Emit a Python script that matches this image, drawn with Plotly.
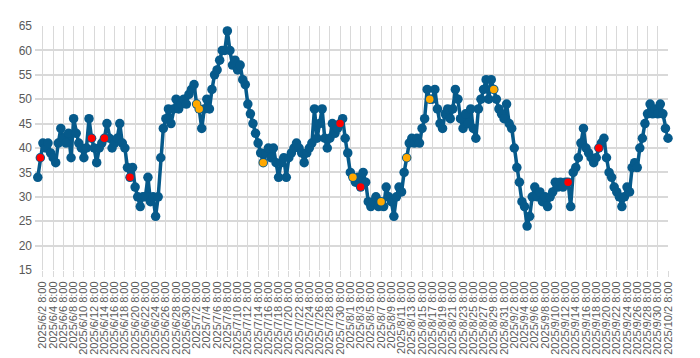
import pandas as pd
import plotly.graph_objects as go

# readings every 12 hours, starting 2025-06-01 08:00
start_time = "2025-06-01 08:00"
values = [
    34, 38, 41, 40, 41, 39, 38, 37, 41, 44,   # d -1 .. 3.5
    42, 41, 43, 38, 46, 43, 41, 40, 38, 40,   # 4 .. 8.5
    46, 42, 40, 37, 40, 41, 42, 45, 42, 40,   # 9 .. 13.5
    41, 42, 45, 41, 40, 36, 34, 36, 32, 30,   # 14 .. 18.5
    28, 30, 30, 34, 29, 30, 26, 30, 38, 44,   # 19 .. 23.5
    46, 48, 45, 48, 50, 48, 49, 50, 49, 51,   # 24 .. 28.5
    52, 53, 49, 48, 44, 48, 50, 48, 52, 55,   # 29 .. 33.5
    56, 58, 60, 60, 64, 60, 57, 58, 56, 57,   # 34 .. 38.5
    54, 53, 49, 47, 45, 43, 41, 39, 37, 39,   # 39 .. 43.5
    40, 38, 40, 37, 34, 37, 38, 34, 38, 39,   # 44 .. 48.5
    40, 41, 40, 39, 37, 39, 40, 41, 48, 42,   # 49 .. 53.5
    45, 48, 42, 40, 42, 45, 43, 44, 45, 46,   # 54 .. 58.5
    42, 39, 35, 34, 33, 34, 32, 35, 33, 29,   # 59 .. 63.5
    28, 29, 30, 28, 29, 28, 32, 30, 29, 26,   # 64 .. 68.5
    30, 32, 31, 35, 38, 41, 42, 41, 42, 41,   # 69 .. 73.5
    44, 46, 52, 50, 50, 52, 48, 45, 44, 47,   # 74 .. 78.5
    48, 46, 48, 52, 50, 46, 44, 47, 45, 48,   # 79 .. 83.5
    44, 42, 48, 50, 52, 54, 50, 54, 52, 50,   # 84 .. 88.5
    48, 47, 46, 49, 45, 44, 40, 36, 33, 29,   # 89 .. 93.5
    28, 24, 26, 30, 32, 30, 31, 29, 30, 28,   # 94 .. 98.5
    30, 31, 33, 32, 33, 32, 33, 33, 28, 35,   # 99 .. 103.5
    36, 38, 41, 44, 40, 39, 38, 37, 38, 40,   # 104 .. 108.5
    41, 42, 38, 35, 34, 32, 31, 30, 28, 30,   # 109 .. 113.5
    32, 31, 36, 37, 36, 40, 42, 45, 47, 49,   # 114 .. 118.5
    47, 48, 47, 49, 47, 44, 42,               # 119 .. 122
]
times = pd.date_range(start_time, periods=len(values), freq="12h")

red_times = ["2025-06-01 20:00", "2025-06-11 20:00", "2025-06-14 08:00",
             "2025-06-19 08:00", "2025-07-30 08:00", "2025-08-03 08:00",
             "2025-09-12 20:00", "2025-09-18 20:00"]
orange_times = ["2025-07-02 08:00", "2025-07-02 20:00", "2025-07-15 08:00",
                "2025-08-01 20:00", "2025-08-07 08:00", "2025-08-12 08:00",
                "2025-08-16 20:00", "2025-08-29 08:00"]

tick_times = pd.date_range("2025-06-02 08:00", "2025-10-02 08:00", freq="2D")
tick_labels = [f"{t.year}/{t.month}/{t.day} {t.hour}:00" for t in tick_times]

series = pd.Series(values, index=times)
red_x = pd.to_datetime(red_times)
orange_x = pd.to_datetime(orange_times)

blue = "#065a8b"
fig = go.Figure()
fig.add_trace(go.Scatter(
    x=times, y=values, mode="lines+markers",
    line=dict(color=blue, width=3.5),
    marker=dict(color=blue, size=9.5),
    cliponaxis=False, showlegend=False, hoverinfo="skip"))
fig.add_trace(go.Scatter(
    x=red_x, y=series.loc[red_x].values, mode="markers",
    marker=dict(color="#ff0000", size=7.5),
    cliponaxis=False, showlegend=False))
fig.add_trace(go.Scatter(
    x=orange_x, y=series.loc[orange_x].values, mode="markers",
    marker=dict(color="#ffa800", size=7.5),
    cliponaxis=False, showlegend=False))

fig.update_layout(
    width=700, height=358,
    margin=dict(l=18, r=40, t=11, b=81),
    paper_bgcolor="white", plot_bgcolor="white",
    font=dict(family="Liberation Sans, Arial, sans-serif", color="#595959"),
)
fig.update_xaxes(
    range=["2025-05-31 19:00", "2025-10-02 08:00"],
    tickmode="array", tickvals=tick_times, ticktext=tick_labels,
    tickangle=-90, tickfont=dict(size=11),
    showgrid=True, gridcolor="#d9d9d9", gridwidth=1,
    ticks="outside", ticklen=6, tickcolor="#d9d9d9",
    showline=False, zeroline=False,
)
fig.update_yaxes(
    range=[15, 65], dtick=5, tick0=15,
    tickfont=dict(size=12),
    showgrid=True, gridcolor="#d9d9d9", gridwidth=1.5,
    showline=False, zeroline=False, ticks="", ticklabelstandoff=2,
)
fig.write_html("out.html")
